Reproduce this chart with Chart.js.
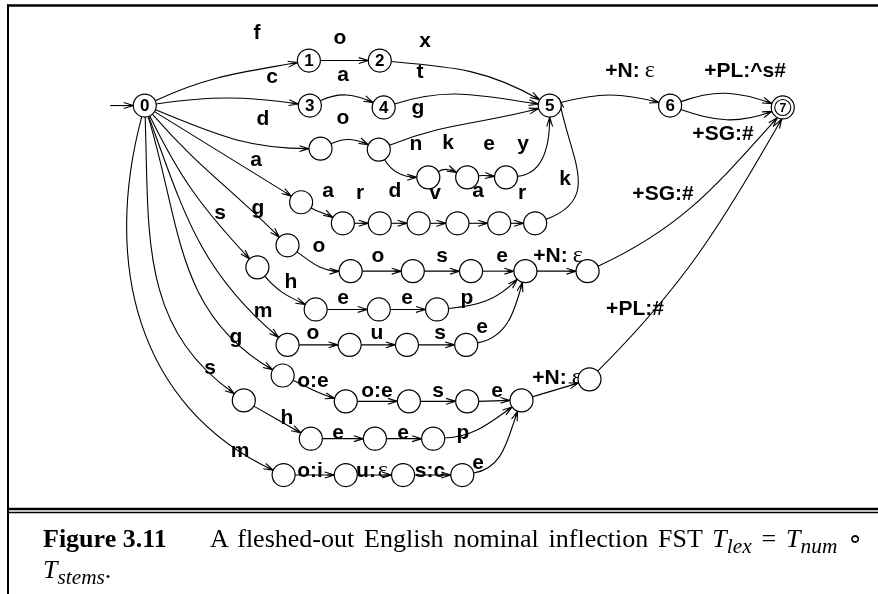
<!DOCTYPE html>
<html>
<head>
<meta charset="utf-8">
<script src="https://cdn.jsdelivr.net/npm/chart.js@4.4.0/dist/chart.umd.min.js"></script>
<style>
html, body { margin: 0; padding: 0; background: #fff; }
#wrap { position: relative; width: 878px; height: 594px; overflow: hidden; }
canvas { display: block; }
.cap { position: absolute; font-family: "Liberation Serif", "Times New Roman", serif; font-size: 26px; line-height: 26px; color: #000; white-space: nowrap; }
.cap sub { font-size: 0.82em; vertical-align: -0.3em; line-height: 0; }
</style>
</head>
<body>
<div id="wrap">
  <canvas id="fst" width="878" height="594"></canvas>
  <div class="cap" style="left:43px; top:526px;"><b>Figure 3.11</b></div>
  <div class="cap" style="left:210px; top:526px; word-spacing:3.4px;">A fleshed-out English nominal inflection FST <i>T<sub>lex</sub></i> = <i>T<sub>num</sub></i> &#8728;</div>
  <div class="cap" style="left:43px; top:557px;"><i>T<sub>stems</sub></i>.</div>
</div>
<script>
// ===== ESTADOS =====
const stateName = ['0', '1', '2', '3', '4', '5', '6', '7',
    '', '', '', '', '',
    '', '', '', '', '', '', '',
    '', '', '', '', '', '',
    '', '', '', '',
    '', '', '', '',
    '', '', '', '', '', '',
    '', '', '', '',
    '', '', '', ''];
const stateX = [136, 305, 378, 306, 382, 553, 677, 793,
    317, 377, 428, 468, 508,
    297, 340, 378, 418, 458, 501, 538,
    283, 348, 412, 472, 528, 592,
    252, 312, 377, 437,
    283, 347, 406, 467,
    278, 343, 408, 468, 524, 594,
    238, 307, 373, 433,
    279, 343, 402, 463];
const stateY = [97, 50, 50, 97, 99, 97, 97, 99,
    142, 143, 172, 172, 172,
    198, 220, 220, 220, 220, 220, 220,
    243, 270, 270, 270, 270, 270,
    266, 310, 310, 310,
    347, 347, 347, 347,
    379, 406, 406, 406, 405, 383,
    405, 445, 445, 445,
    483, 483, 483, 483];
const finalStates = [7];
const startState = 0;

// ===== TRANSICIONES =====
const edgeFrom = [0, 1, 2, 0, 3, 4, 0, 8, 9, 9, 10, 11, 12,
    0, 13, 14, 15, 16, 17, 18, 19,
    5, 6, 6,
    0, 20, 21, 22, 23, 0, 26, 27, 28, 29, 0, 30, 31, 32, 33, 24, 25,
    0, 34, 35, 36, 37, 0, 40, 41, 42, 43, 0, 44, 45, 46, 47, 38, 39];
const edgeTo = [1, 2, 5, 3, 4, 5, 8, 9, 5, 10, 11, 12, 5,
    13, 14, 15, 16, 17, 18, 19, 5,
    6, 7, 7,
    20, 21, 22, 23, 24, 26, 27, 28, 29, 24, 30, 31, 32, 33, 24, 25, 7,
    34, 35, 36, 37, 38, 40, 41, 42, 43, 38, 44, 45, 46, 47, 38, 39, 7];
const edgeLabel = ['f', 'o', 'x', 'c', 'a', 't', 'd', 'o', 'g', 'n', 'k', 'e', 'y',
    'a', 'a', 'r', 'd', 'v', 'a', 'r', 'k',
    '+N:ε', '+PL:^s#', '+SG:#',
    'g', 'o', 'o', 's', 'e', 's', 'h', 'e', 'e', 'p', 'm', 'o', 'u', 's', 'e', '+N:ε', '+SG:#',
    'g', 'o:e', 'o:e', 's', 'e', 's', 'h', 'e', 'e', 'p', 'm', 'o:i', 'u:ε', 's:c', 'e', '+N:ε', '+PL:#'];

// Forma de las curvas: ángulo de salida / llegada (grados)
const edgeOut = [25, 0, -5, 8, 25, 18, -22, 25, 22, -60, 30, 8, 5,
    -32, -30, 0, 0, 0, 0, 0, 20,
    15, 20, -20,
    -49, -35, 0, 0, 0, -64, -50, 0, 0, 5, -70, 0, 0, 0, 10, 0, 25,
    -73, -25, 0, 0, 0, -88, -30, 0, 0, 3, -105, 0, 0, 0, 10, 18, 45];
const edgeIn = [190, 180, 150, 172, 155, 172, 180, 155, 195, 180, 155, 175, 270,
    148, 150, 180, 180, 180, 180, 180, 280,
    165, 160, 200,
    135, 180, 180, 180, 180, 133, 155, 180, 180, 225, 140, 180, 180, 180, 255, 180, 228,
    150, 165, 180, 180, 180, 145, 150, 180, 180, 215, 155, 180, 180, 180, 250, 198, 240];
// punto de contacto en el nodo destino, cuando no coincide con la tangente
const edgeInAttach = { 20: 35, 40: 242, 57: 265 };
const edgeLoose = { 20: 0.5 };

// Posición de las etiquetas
const labelX = [257, 340, 425, 272, 343, 420, 263, 343, 418, 416, 448, 489, 523,
    256, 328, 360, 395, 435, 478, 522, 565,
    630, 745, 723,
    258, 319, 378, 442, 502, 220, 291, 343, 407, 467, 263, 313, 377, 440, 482, 558, 663,
    236, 313, 377, 438, 497, 210, 287, 338, 403, 463, 240, 310, 372, 430, 478, 557, 635];
const labelY = [32, 37, 40, 76, 74, 71, 118, 117, 107, 143, 142, 143, 143,
    159, 190, 192, 190, 192, 190, 192, 178,
    70, 70, 133,
    207, 245, 255, 255, 255, 212, 281, 297, 297, 297, 310, 332, 332, 332, 326, 255, 193,
    336, 380, 390, 390, 390, 367, 417, 432, 432, 432, 450, 470, 470, 470, 462, 377, 308];

const NODE_R = 11.5;
const LABEL_FONT = 'bold 21px "Liberation Sans", Arial, sans-serif';
const EPS_FONT = '24px "Liberation Serif", "Times New Roman", serif';

// ===== DIBUJO =====
function px(chart, i) {
    return {
        x: chart.scales.x.getPixelForValue(stateX[i]),
        y: chart.scales.y.getPixelForValue(stateY[i])
    };
}

function dirOf(deg) {
    const r = deg * Math.PI / 180;
    return { x: Math.cos(r), y: -Math.sin(r) };
}

function drawArrowHead(ctx, tip, from) {
    const ang = Math.atan2(tip.y - from.y, tip.x - from.x);
    const len = 10, spread = 0.3;
    ctx.beginPath();
    ctx.moveTo(tip.x - len * Math.cos(ang - spread), tip.y - len * Math.sin(ang - spread));
    ctx.lineTo(tip.x, tip.y);
    ctx.lineTo(tip.x - len * Math.cos(ang + spread), tip.y - len * Math.sin(ang + spread));
    ctx.moveTo(tip.x, tip.y);
    ctx.lineTo(tip.x - len * 0.7 * Math.cos(ang), tip.y - len * 0.7 * Math.sin(ang));
    ctx.stroke();
}

function drawLabel(ctx, text, x, y) {
    const i = text.indexOf('ε');
    ctx.textBaseline = 'alphabetic';
    if (i < 0) {
        ctx.textAlign = 'center';
        ctx.font = LABEL_FONT;
        ctx.fillText(text, x, y + 7);
        return;
    }
    const pre = text.slice(0, i);
    ctx.font = LABEL_FONT;
    const w1 = ctx.measureText(pre).width;
    ctx.font = EPS_FONT;
    const w2 = ctx.measureText('ε').width;
    const gap = pre.length > 2 ? 5 : 2;
    const x0 = x - (w1 + gap + w2) / 2;
    ctx.textAlign = 'left';
    ctx.font = LABEL_FONT;
    ctx.fillText(pre, x0, y + 7);
    ctx.font = EPS_FONT;
    ctx.fillText('ε', x0 + w1 + gap, y + 7);
}

const marcoPlugin = {
    id: 'marco',
    beforeDraw(chart) {
        const ctx = chart.ctx;
        ctx.save();
        ctx.fillStyle = '#fff';
        ctx.fillRect(0, 0, chart.width, chart.height);
        ctx.strokeStyle = '#000';
        ctx.lineWidth = 2.5;
        ctx.beginPath();
        ctx.moveTo(7, 5.5); ctx.lineTo(chart.width, 5.5);
        ctx.moveTo(7, 509); ctx.lineTo(chart.width, 509);
        ctx.stroke();
        ctx.lineWidth = 1.6;
        ctx.beginPath();
        ctx.moveTo(7, 512.5); ctx.lineTo(chart.width, 512.5);
        ctx.stroke();
        ctx.lineWidth = 2;
        ctx.beginPath();
        ctx.moveTo(8, 4.5); ctx.lineTo(8, chart.height);
        ctx.stroke();
        ctx.restore();
    }
};

const aristasPlugin = {
    id: 'aristas',
    beforeDatasetsDraw(chart) {
        const ctx = chart.ctx;
        ctx.save();
        ctx.strokeStyle = '#000';
        ctx.fillStyle = '#000';
        ctx.lineWidth = 1.1;
        for (let e = 0; e < edgeFrom.length; e++) {
            const a = px(chart, edgeFrom[e]);
            const b = px(chart, edgeTo[e]);
            const dOut = dirOf(edgeOut[e]);
            const dIn = dirOf(edgeIn[e]);
            const dAt = dirOf(edgeInAttach[e] !== undefined ? edgeInAttach[e] : edgeIn[e]);
            const p0 = { x: a.x + NODE_R * dOut.x, y: a.y + NODE_R * dOut.y };
            const p3 = { x: b.x + NODE_R * dAt.x, y: b.y + NODE_R * dAt.y };
            const dist = Math.hypot(p3.x - p0.x, p3.y - p0.y) * (edgeLoose[e] || 0.4);
            const c1 = { x: p0.x + dist * dOut.x, y: p0.y + dist * dOut.y };
            const c2 = { x: p3.x + dist * dIn.x, y: p3.y + dist * dIn.y };
            ctx.beginPath();
            ctx.moveTo(p0.x, p0.y);
            ctx.bezierCurveTo(c1.x, c1.y, c2.x, c2.y, p3.x, p3.y);
            ctx.stroke();
            drawArrowHead(ctx, p3, c2);
            if (edgeLabel[e]) drawLabel(ctx, edgeLabel[e], labelX[e], labelY[e]);
        }
        // flecha de entrada al estado inicial
        const s = px(chart, startState);
        const tip = { x: s.x - NODE_R, y: s.y };
        ctx.beginPath();
        ctx.moveTo(tip.x - 23, tip.y);
        ctx.lineTo(tip.x, tip.y);
        ctx.stroke();
        drawArrowHead(ctx, tip, { x: tip.x - 23, y: tip.y });
        ctx.restore();
    },
    afterDatasetsDraw(chart) {
        const ctx = chart.ctx;
        ctx.save();
        ctx.fillStyle = '#000';
        ctx.strokeStyle = '#000';
        ctx.textAlign = 'center';
        ctx.textBaseline = 'middle';
        for (let i = 0; i < stateName.length; i++) {
            const p = px(chart, i);
            if (finalStates.includes(i)) {
                ctx.lineWidth = 1.1;
                ctx.beginPath();
                ctx.arc(p.x, p.y, NODE_R - 3.5, 0, Math.PI * 2);
                ctx.stroke();
                ctx.font = 'bold 12px "Liberation Sans", Arial, sans-serif';
            } else {
                ctx.font = 'bold 17px "Liberation Sans", Arial, sans-serif';
            }
            if (stateName[i]) ctx.fillText(stateName[i], p.x, p.y + 1);
        }
        ctx.restore();
    }
};

const ctx = document.getElementById('fst').getContext('2d');
window.chartFst = new Chart(ctx, {
    type: 'scatter',
    data: {
        datasets: [{
            data: stateX.map((x, i) => ({ x: x, y: stateY[i] })),
            pointRadius: NODE_R,
            pointHoverRadius: NODE_R,
            pointBackgroundColor: '#fff',
            pointBorderColor: '#000',
            pointBorderWidth: 1.2
        }]
    },
    options: {
        responsive: false,
        animation: false,
        events: [],
        layout: { padding: 0 },
        plugins: {
            legend: { display: false },
            tooltip: { enabled: false }
        },
        scales: {
            x: { type: 'linear', min: 0, max: 878, display: false },
            y: { type: 'linear', min: 0, max: 594, reverse: true, display: false }
        }
    },
    plugins: [marcoPlugin, aristasPlugin]
});
</script>
</body>
</html>
